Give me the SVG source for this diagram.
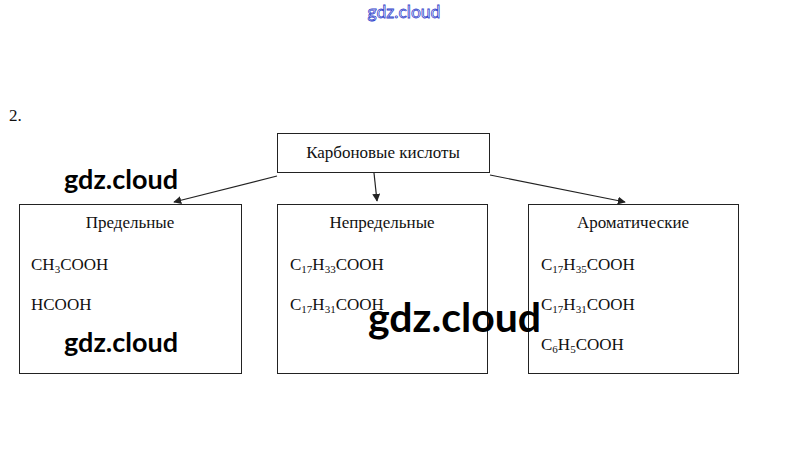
<svg xmlns="http://www.w3.org/2000/svg" width="808" height="475" viewBox="0 0 808 475">
<style>
.box{fill:#fff;stroke:#222;stroke-width:1}
.t{font-family:"Liberation Serif","Times New Roman",serif;font-size:17px;fill:#111}
.h{text-anchor:middle}
.sub{font-size:11px}
.wm{font-family:Lato,"Open Sans",sans-serif;font-weight:bold;fill:#000}
.conn{stroke:#222;stroke-width:1.2;fill:none}
</style>
<defs>
<marker id="ah" viewBox="0 0 10 10" refX="9" refY="5" markerWidth="8" markerHeight="8" markerUnits="userSpaceOnUse" orient="auto">
<path d="M0,0 L10,5 L0,10 z" fill="#222"/>
</marker>
</defs>
<rect width="808" height="475" fill="#fff"/>
<text x="404" y="18" text-anchor="middle" font-family="Lato,'Open Sans',sans-serif" font-size="17.5" fill="#fff" stroke="#3344cc" stroke-width="0.8">gdz.cloud</text>
<text class="t" x="9" y="121" font-size="16">2.</text>
<g id="connectors">
<line class="conn" x1="277" y1="176" x2="174" y2="202" marker-end="url(#ah)"/>
<line class="conn" x1="374" y1="173" x2="377" y2="201" marker-end="url(#ah)"/>
<line class="conn" x1="490" y1="175" x2="625" y2="202" marker-end="url(#ah)"/>
</g>
<g id="root">
<rect class="box" x="277.5" y="133.5" width="212" height="39"/>
<text class="t h" x="383" y="158" font-size="18">Карбоновые кислоты</text>
</g>
<g id="saturated">
<rect class="box" x="19.5" y="204.5" width="222" height="169"/>
<text class="t h" x="130" y="228">Предельные</text>
<text class="t" x="31" y="270">CH<tspan class="sub" dy="3">3</tspan><tspan dy="-3">COOH</tspan></text>
<text class="t" x="31" y="310">HCOOH</text>
</g>
<g id="unsaturated">
<rect class="box" x="277.5" y="204.5" width="210" height="169"/>
<text class="t h" x="382" y="228">Непредельные</text>
<text class="t" x="290" y="270">C<tspan class="sub" dy="3">17</tspan><tspan dy="-3">H</tspan><tspan class="sub" dy="3">33</tspan><tspan dy="-3">COOH</tspan></text>
<text class="t" x="290" y="310">C<tspan class="sub" dy="3">17</tspan><tspan dy="-3">H</tspan><tspan class="sub" dy="3">31</tspan><tspan dy="-3">COOH</tspan></text>
</g>
<g id="aromatic">
<rect class="box" x="528.5" y="204.5" width="210" height="169"/>
<text class="t h" x="633" y="228">Ароматические</text>
<text class="t" x="541" y="270">C<tspan class="sub" dy="3">17</tspan><tspan dy="-3">H</tspan><tspan class="sub" dy="3">35</tspan><tspan dy="-3">COOH</tspan></text>
<text class="t" x="541" y="310">C<tspan class="sub" dy="3">17</tspan><tspan dy="-3">H</tspan><tspan class="sub" dy="3">31</tspan><tspan dy="-3">COOH</tspan></text>
<text class="t" x="541" y="350">C<tspan class="sub" dy="3">6</tspan><tspan dy="-3">H</tspan><tspan class="sub" dy="3">5</tspan><tspan dy="-3">COOH</tspan></text>
</g>
<text class="wm" x="64" y="189" font-size="27">gdz.cloud</text>
<text class="wm" x="64" y="352" font-size="27">gdz.cloud</text>
<text class="wm" x="368" y="332" font-size="41">gdz.cloud</text>
</svg>
